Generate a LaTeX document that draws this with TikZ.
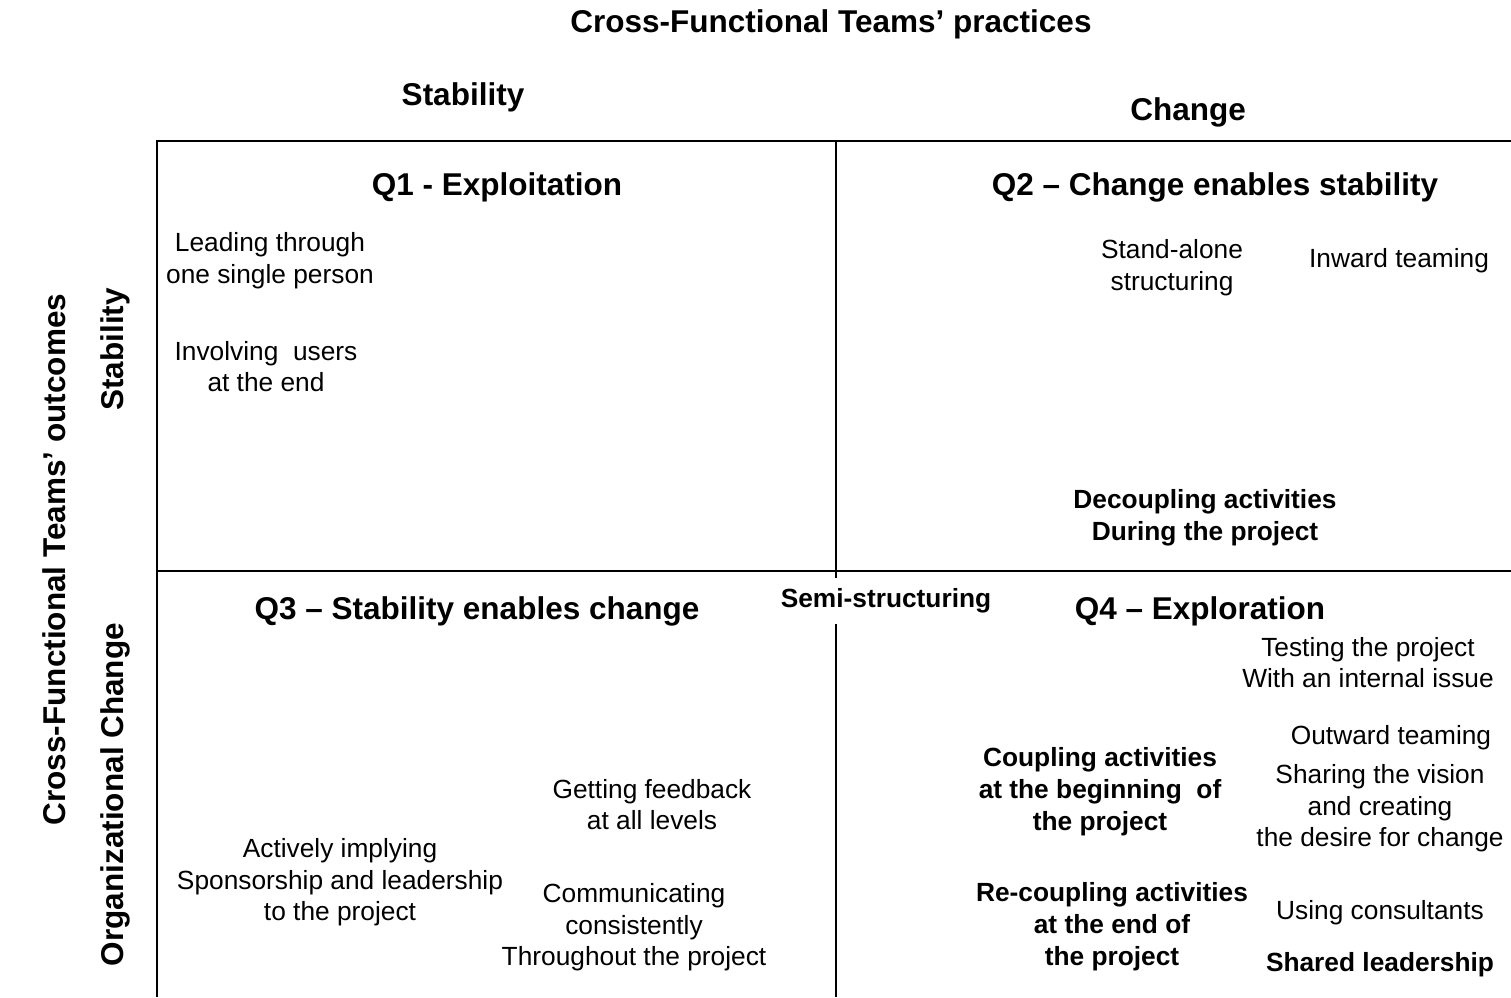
\documentclass[tikz,border=0pt]{standalone}
\usepackage{fontspec}
\setmainfont{Liberation Sans}
\begin{document}
\begin{tikzpicture}[x=1pt,y=-1pt,
  body/.style={align=center,inner sep=0pt,font=\fontsize{26.3}{31.5}\selectfont},
  bbody/.style={body,font=\fontsize{26.3}{32}\selectfont\bfseries},
  head/.style={align=center,inner sep=0pt,font=\fontsize{31.5}{36}\selectfont\bfseries},
  grid/.style={line width=2pt,black}]
\useasboundingbox (0,0) rectangle (1511,997);
% grid lines
\coordinate (tl) at (157,141);
\coordinate (tr) at (1511,141);
\coordinate (bl) at (157,997);
\coordinate (mt) at (836,141);
\coordinate (mb) at (836,997);
\coordinate (ml) at (157,571);
\coordinate (mr) at (1511,571);
\draw[grid] (bl) -- (tl) -- (tr);
\draw[grid] (mt) -- (mb);
\draw[grid] (ml) -- (mr);
\begin{scope}[yshift=-2.5pt]
% headings
\node[head] (title) at (831,22) {Cross-Functional Teams’ practices};
\node[head] (colstab) at (463,95) {Stability};
\node[head] (colchg) at (1188,110) {Change};
\node[head,rotate=90] (rowtitle) at (54.5,557) {Cross-Functional Teams’ outcomes};
\node[head,rotate=90] (rowstab) at (115.5,347) {Stability};
\node[head,rotate=90] (rowchg) at (115.5,792) {Organizational Change};
\node[head] (q1) at (497,185) {Q1 - Exploitation};
\node[head] (q2) at (1215,185) {Q2 – Change enables stability};
\node[head] (q3) at (477,609) {Q3 – Stability enables change};
\node[head] (q4) at (1200,609) {Q4 – Exploration};
\node[bbody,fill=white,minimum height=46pt,inner xsep=4pt] (semi) at (886,598) {Semi-structuring};
% Q1
\node[body] (lead) at (270,258) {Leading through\\one single person};
\node[body] (inv) at (266,364) {Involving\ \ users\\at the end};
% Q2
\node[body] (stand) at (1172,265) {Stand-alone\\structuring};
\node[body] (inward) at (1399,258) {Inward teaming};
\node[bbody] (decoup) at (1205,515) {Decoupling activities\\During the project};
% Q3
\node[body] (feed) at (652,802) {Getting feedback\\at all levels};
\node[body] (act) at (340,880) {Actively implying\\Sponsorship and leadership\\to the project};
\node[body] (comm) at (634,925) {Communicating\\consistently\\Throughout the project};
% Q4
\node[body] (test) at (1368,660) {Testing the project\\With an internal issue};
\node[body] (outw) at (1391,735) {Outward teaming};
\node[body] (share) at (1380,806) {Sharing the vision\\and creating\\the desire for change};
\node[bbody] (coup) at (1100,789) {Coupling activities\\at the beginning\ \ of\\the project};
\node[bbody] (recoup) at (1112,924) {Re-coupling activities\\at the end of\\the project};
\node[body] (cons) at (1380,910) {Using consultants};
\node[bbody] (shared) at (1380,962) {Shared leadership};
\end{scope}
\end{tikzpicture}
\end{document}
